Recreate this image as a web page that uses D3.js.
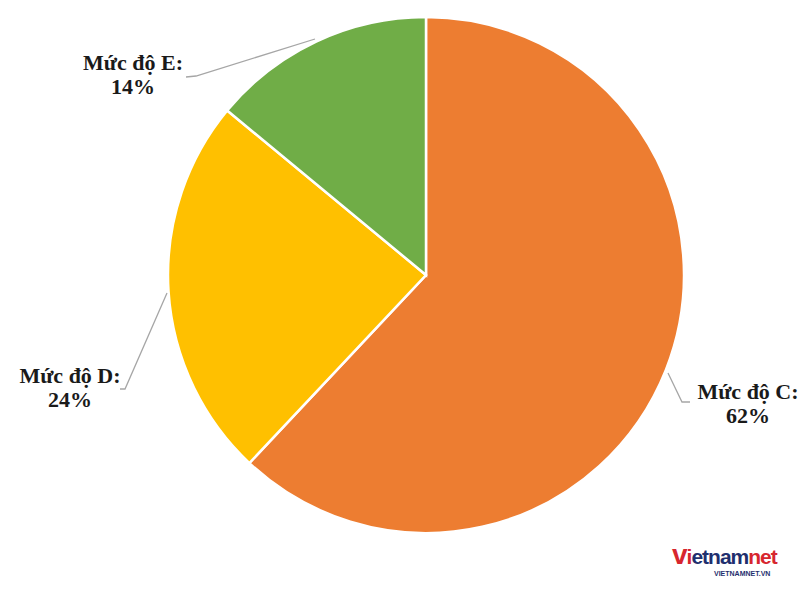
<!DOCTYPE html>
<html><head><meta charset="utf-8">
<script src="https://cdn.jsdelivr.net/npm/d3@7/dist/d3.min.js"></script>
<style>html,body{margin:0;padding:0;background:#fff;overflow:hidden}</style>
</head><body>
<svg id="c" width="799" height="594"></svg>
<script>
const categories = ["Mức độ C", "Mức độ D", "Mức độ E"];
const values = [62, 24, 14];
const colors = ["#ED7D31", "#FFC000", "#70AD47"];
// label anchor positions (center of text block) and leader line points
const labelPos = [[748, 399], [70, 383], [133, 70]];
const leaderPts = [
  [[668, 373], [682, 402], [690, 402]],
  [[167, 293], [125, 389], [120, 389]],
  [[315, 39], [196, 76], [186, 77]]
];

const svg = d3.select("#c");
const cx = 426, cy = 275, r = 258;
const pie = d3.pie().sort(null).value(d => d)(values);
const arc = d3.arc().innerRadius(0).outerRadius(r);
const g = svg.append("g").attr("transform", `translate(${cx},${cy})`);
g.selectAll("path").data(pie).join("path")
  .attr("d", arc)
  .attr("fill", (d, i) => colors[i])
  .attr("stroke", "#fff").attr("stroke-width", 2.5);

svg.selectAll("polyline.leader").data(leaderPts).join("polyline")
  .attr("class", "leader")
  .attr("points", d => d.map(p => p.join(",")).join(" "))
  .attr("fill", "none").attr("stroke", "#a6a6a6").attr("stroke-width", 1.3);

const lbl = svg.selectAll("text.lbl").data(categories).join("text")
  .attr("class", "lbl")
  .attr("text-anchor", "middle")
  .attr("font-family", "Liberation Serif, Times New Roman, serif")
  .attr("font-weight", "bold").attr("font-size", 22).attr("fill", "#1a1a1a");
lbl.append("tspan").attr("x", (d, i) => labelPos[i][0]).attr("y", (d, i) => labelPos[i][1]).text(d => d + ":");
lbl.append("tspan").attr("x", (d, i) => labelPos[i][0]).attr("y", (d, i) => labelPos[i][1] + 24).text((d, i) => values[i] + "%");

// watermark
const wm = svg.append("g");
wm.append("text").attr("x", 672).attr("y", 564)
  .attr("font-family", "Liberation Sans, Arial, sans-serif").attr("font-weight", "bold")
  .attr("font-size", 21).attr("letter-spacing", -1)
  .html('<tspan fill="#d7262e" font-size="28">v</tspan><tspan fill="#d7262e">i</tspan><tspan fill="#1f2f6e">etnam</tspan><tspan fill="#d7262e">net</tspan>');
wm.append("text").attr("x", 714).attr("y", 576)
  .attr("font-family", "Liberation Sans, Arial, sans-serif").attr("font-weight", "bold")
  .attr("font-size", 7).attr("fill", "#1f2f6e").text("VIETNAMNET.VN");
</script>
</body></html>
